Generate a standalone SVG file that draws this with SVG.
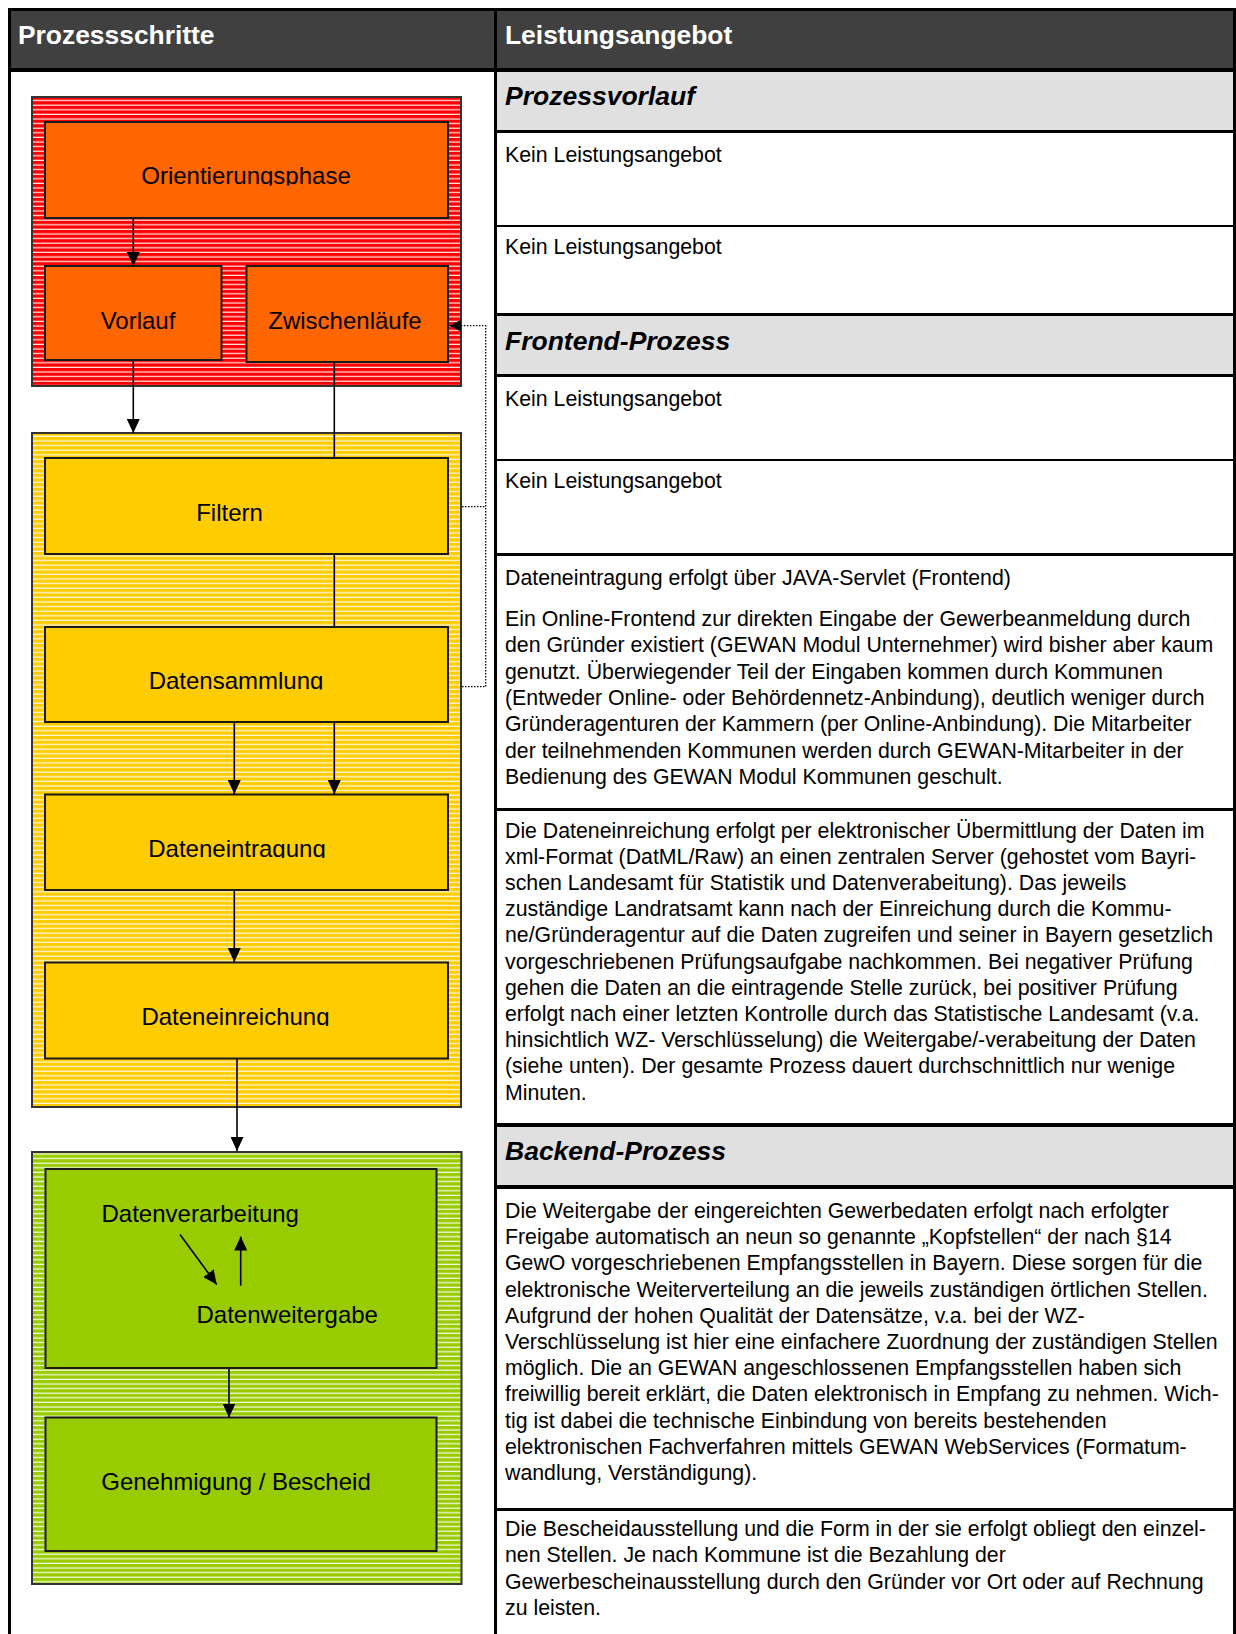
<svg xmlns="http://www.w3.org/2000/svg" width="1236" height="1634" viewBox="0 0 1236 1634">
<style>
.hd{font-family:"Liberation Sans",Arial,sans-serif;font-weight:bold;font-size:26.4px;fill:#fff}
.sec{font-family:"Liberation Sans",Arial,sans-serif;font-weight:bold;font-style:italic;font-size:26.5px;fill:#000}
.bd{font-family:"Liberation Sans",Arial,sans-serif;font-size:21.3px;fill:#000}
.lbl{font-family:"Liberation Sans",Arial,sans-serif;font-size:24px;fill:#000}
.grp{stroke:#333;stroke-width:2}
.box{stroke:#1a1a1a;stroke-width:2}
.ln{stroke:#000;stroke-width:3}
.cn{stroke:#000;stroke-width:1.6;fill:none}
.dot{stroke:#000;stroke-width:1.3;fill:none;stroke-dasharray:1.5 1.5}
</style>
<defs>
<pattern id="pRed" width="8" height="4.6" patternUnits="userSpaceOnUse"><rect width="8" height="4.6" fill="#ff0000"/><rect y="3.4" width="8" height="1.1" fill="#ffffff"/></pattern>
<pattern id="pYel" width="8" height="4.6" patternUnits="userSpaceOnUse"><rect width="8" height="4.6" fill="#ffcc00"/><rect y="3.4" width="8" height="1.1" fill="#ffffff"/></pattern>
<pattern id="pGrn" width="8" height="4.6" patternUnits="userSpaceOnUse"><rect width="8" height="4.6" fill="#99cc00"/><rect y="3.4" width="8" height="1.1" fill="#ffffff"/></pattern>
<marker id="ah" viewBox="0 0 14 13" refX="14" refY="6.5" markerWidth="14" markerHeight="13" markerUnits="userSpaceOnUse" orient="auto"><path d="M0,0 L14,6.5 L0,13 z" fill="#000"/></marker>
<marker id="ahs" viewBox="0 0 12 12" refX="12" refY="6" markerWidth="12" markerHeight="12" markerUnits="userSpaceOnUse" orient="auto"><path d="M0,0 L12,6 L0,12 z" fill="#000"/></marker>
<clipPath id="c1"><rect x="45" y="122" width="403" height="63.5"/></clipPath>
<clipPath id="c2"><rect x="45" y="627" width="403" height="62.5"/></clipPath>
<clipPath id="c3"><rect x="45" y="795" width="403" height="63"/></clipPath>
<clipPath id="c4"><rect x="45" y="963" width="403" height="63"/></clipPath>
</defs>

<g id="table">
<rect x="0" y="0" width="1236" height="1634" fill="#ffffff"/>
<rect x="9" y="9" width="1226" height="61" fill="#404040"/>
<rect x="497" y="72" width="737" height="58" fill="#e0e0e0"/>
<rect x="497" y="316" width="737" height="58" fill="#e0e0e0"/>
<rect x="497" y="1127" width="737" height="58" fill="#e0e0e0"/>
<line class="ln" x1="8" y1="9.5" x2="1236" y2="9.5"/>
<line x1="8" y1="70" x2="1236" y2="70" stroke="#000" stroke-width="4"/>
<line class="ln" x1="494" y1="131.5" x2="1236" y2="131.5"/>
<line x1="494" y1="226" x2="1236" y2="226" stroke="#000" stroke-width="2"/>
<line class="ln" x1="494" y1="314.5" x2="1236" y2="314.5"/>
<line class="ln" x1="494" y1="375.5" x2="1236" y2="375.5"/>
<line x1="494" y1="460" x2="1236" y2="460" stroke="#000" stroke-width="2"/>
<line class="ln" x1="494" y1="554.5" x2="1236" y2="554.5"/>
<line class="ln" x1="494" y1="809.5" x2="1236" y2="809.5"/>
<line x1="494" y1="1125" x2="1236" y2="1125" stroke="#000" stroke-width="4"/>
<line x1="494" y1="1187" x2="1236" y2="1187" stroke="#000" stroke-width="4"/>
<line class="ln" x1="494" y1="1509.5" x2="1236" y2="1509.5"/>
<line class="ln" x1="9.5" y1="8" x2="9.5" y2="1634"/>
<line class="ln" x1="495.5" y1="8" x2="495.5" y2="1634"/>
<line class="ln" x1="1234.5" y1="8" x2="1234.5" y2="1634"/>
<text class="hd" x="18" y="44">Prozessschritte</text>
<text class="hd" x="505" y="44">Leistungsangebot</text>
</g>

<g id="right-texts">
<text class="sec" x="505" y="105">Prozessvorlauf</text>
<text class="bd" x="505" y="162">Kein Leistungsangebot</text>
<text class="bd" x="505" y="254">Kein Leistungsangebot</text>
<text class="sec" x="505" y="350">Frontend-Prozess</text>
<text class="bd" x="505" y="406">Kein Leistungsangebot</text>
<text class="bd" x="505" y="488">Kein Leistungsangebot</text>
<text class="bd" x="505" y="585">Dateneintragung erfolgt über JAVA-Servlet (Frontend)</text>
<text class="bd" x="505" y="626">Ein Online-Frontend zur direkten Eingabe der Gewerbeanmeldung durch<tspan x="505" dy="26.3">den Gründer existiert (GEWAN Modul Unternehmer) wird bisher aber kaum</tspan><tspan x="505" dy="26.3">genutzt. Überwiegender Teil der Eingaben kommen durch Kommunen</tspan><tspan x="505" dy="26.3">(Entweder Online- oder Behördennetz-Anbindung), deutlich weniger durch</tspan><tspan x="505" dy="26.3">Gründeragenturen der Kammern (per Online-Anbindung). Die Mitarbeiter</tspan><tspan x="505" dy="26.3">der teilnehmenden Kommunen werden durch GEWAN-Mitarbeiter in der</tspan><tspan x="505" dy="26.3">Bedienung des GEWAN Modul Kommunen geschult.</tspan></text>
<text class="bd" x="505" y="837.5">Die Dateneinreichung erfolgt per elektronischer Übermittlung der Daten im<tspan x="505" dy="26.2">xml-Format (DatML/Raw) an einen zentralen Server (gehostet vom Bayri-</tspan><tspan x="505" dy="26.2">schen Landesamt für Statistik und Datenverabeitung). Das jeweils</tspan><tspan x="505" dy="26.2">zuständige Landratsamt kann nach der Einreichung durch die Kommu-</tspan><tspan x="505" dy="26.2">ne/Gründeragentur auf die Daten zugreifen und seiner in Bayern gesetzlich</tspan><tspan x="505" dy="26.2">vorgeschriebenen Prüfungsaufgabe nachkommen. Bei negativer Prüfung</tspan><tspan x="505" dy="26.2">gehen die Daten an die eintragende Stelle zurück, bei positiver Prüfung</tspan><tspan x="505" dy="26.2">erfolgt nach einer letzten Kontrolle durch das Statistische Landesamt (v.a.</tspan><tspan x="505" dy="26.2">hinsichtlich WZ- Verschlüsselung) die Weitergabe/-verabeitung der Daten</tspan><tspan x="505" dy="26.2">(siehe unten). Der gesamte Prozess dauert durchschnittlich nur wenige</tspan><tspan x="505" dy="26.2">Minuten.</tspan></text>
<text class="sec" x="505" y="1160">Backend-Prozess</text>
<text class="bd" x="505" y="1218">Die Weitergabe der eingereichten Gewerbedaten erfolgt nach erfolgter<tspan x="505" dy="26.2">Freigabe automatisch an neun so genannte „Kopfstellen“ der nach §14</tspan><tspan x="505" dy="26.2">GewO vorgeschriebenen Empfangsstellen in Bayern. Diese sorgen für die</tspan><tspan x="505" dy="26.2">elektronische Weiterverteilung an die jeweils zuständigen örtlichen Stellen.</tspan><tspan x="505" dy="26.2">Aufgrund der hohen Qualität der Datensätze, v.a. bei der WZ-</tspan><tspan x="505" dy="26.2">Verschlüsselung ist hier eine einfachere Zuordnung der zuständigen Stellen</tspan><tspan x="505" dy="26.2">möglich. Die an GEWAN angeschlossenen Empfangsstellen haben sich</tspan><tspan x="505" dy="26.2">freiwillig bereit erklärt, die Daten elektronisch in Empfang zu nehmen. Wich-</tspan><tspan x="505" dy="26.2">tig ist dabei die technische Einbindung von bereits bestehenden</tspan><tspan x="505" dy="26.2">elektronischen Fachverfahren mittels GEWAN WebServices (Formatum-</tspan><tspan x="505" dy="26.2">wandlung, Verständigung).</tspan></text>
<text class="bd" x="505" y="1536">Die Bescheidausstellung und die Form in der sie erfolgt obliegt den einzel-<tspan x="505" dy="26.3">nen Stellen. Je nach Kommune ist die Bezahlung der</tspan><tspan x="505" dy="26.3">Gewerbescheinausstellung durch den Gründer vor Ort oder auf Rechnung</tspan><tspan x="505" dy="26.3">zu leisten.</tspan></text>
</g>

<g id="group-red"><rect class="grp" x="32" y="97" width="429" height="289" fill="url(#pRed)"/></g>
<g id="group-yellow"><rect class="grp" x="32" y="433" width="429" height="674" fill="url(#pYel)"/></g>
<g id="group-green"><rect class="grp" x="32" y="1152" width="429.5" height="432" fill="url(#pGrn)"/></g>

<g id="node-orientierungsphase"><rect class="box" x="45" y="122" width="403" height="96" fill="#ff6600"/><text class="lbl" x="246" y="184" text-anchor="middle" clip-path="url(#c1)">Orientierungsphase</text></g>
<g id="node-vorlauf"><rect class="box" x="45" y="266" width="176.5" height="94" fill="#ff6600"/><text class="lbl" x="138" y="329" text-anchor="middle">Vorlauf</text></g>
<g id="node-zwischenlaeufe"><rect class="box" x="246.5" y="266" width="201.5" height="96" fill="#ff6600"/><text class="lbl" x="345" y="329" text-anchor="middle">Zwischenläufe</text></g>
<g id="node-filtern"><rect class="box" x="45" y="458" width="403" height="96" fill="#ffcc00"/><text class="lbl" x="229.5" y="520.5" text-anchor="middle">Filtern</text></g>
<g id="node-datensammlung"><rect class="box" x="45" y="627" width="403" height="95" fill="#ffcc00"/><text class="lbl" x="236" y="688.5" text-anchor="middle" clip-path="url(#c2)">Datensammlung</text></g>
<g id="node-dateneintragung"><rect class="box" x="45" y="794.5" width="403" height="95.5" fill="#ffcc00"/><text class="lbl" x="237" y="856.7" text-anchor="middle" clip-path="url(#c3)">Dateneintragung</text></g>
<g id="node-dateneinreichung"><rect class="box" x="45" y="962.5" width="403" height="96" fill="#ffcc00"/><text class="lbl" x="235.5" y="1024.5" text-anchor="middle" clip-path="url(#c4)">Dateneinreichung</text></g>
<g id="node-verarbeitung-weitergabe"><rect class="box" x="45.5" y="1169" width="391" height="199" fill="#99cc00"/><text class="lbl" x="101.5" y="1221.5">Datenverarbeitung</text><text class="lbl" x="196.5" y="1323.3">Datenweitergabe</text></g>
<g id="node-genehmigung"><rect class="box" x="45.5" y="1417.5" width="391" height="133.5" fill="#99cc00"/><text class="lbl" x="236" y="1490" text-anchor="middle">Genehmigung / Bescheid</text></g>

<g id="connectors">
<line class="cn" x1="133.3" y1="219" x2="133.3" y2="266" marker-end="url(#ah)"/>
<line class="cn" x1="133.3" y1="361" x2="133.3" y2="433" marker-end="url(#ah)"/>
<line class="cn" x1="334.3" y1="363" x2="334.3" y2="457"/>
<line class="cn" x1="334.3" y1="555" x2="334.3" y2="626"/>
<line class="cn" x1="334.3" y1="723" x2="334.3" y2="794" marker-end="url(#ah)"/>
<line class="cn" x1="234.3" y1="723" x2="234.3" y2="794" marker-end="url(#ah)"/>
<line class="cn" x1="234.3" y1="891" x2="234.3" y2="962" marker-end="url(#ah)"/>
<line class="cn" x1="237" y1="1059" x2="237" y2="1151" marker-end="url(#ah)"/>
<line class="cn" x1="180" y1="1234.5" x2="216.7" y2="1284.5" marker-end="url(#ah)"/>
<line class="cn" x1="240.7" y1="1285.7" x2="240.7" y2="1236.5" marker-end="url(#ah)"/>
<line class="cn" x1="229" y1="1369" x2="229" y2="1417.5" marker-end="url(#ah)"/>
<polyline class="dot" points="462,686.7 485.7,686.7 485.7,325.7 449.3,325.7" marker-end="url(#ahs)"/>
<line class="dot" x1="462" y1="506.7" x2="485.7" y2="506.7"/>
</g>
</svg>
